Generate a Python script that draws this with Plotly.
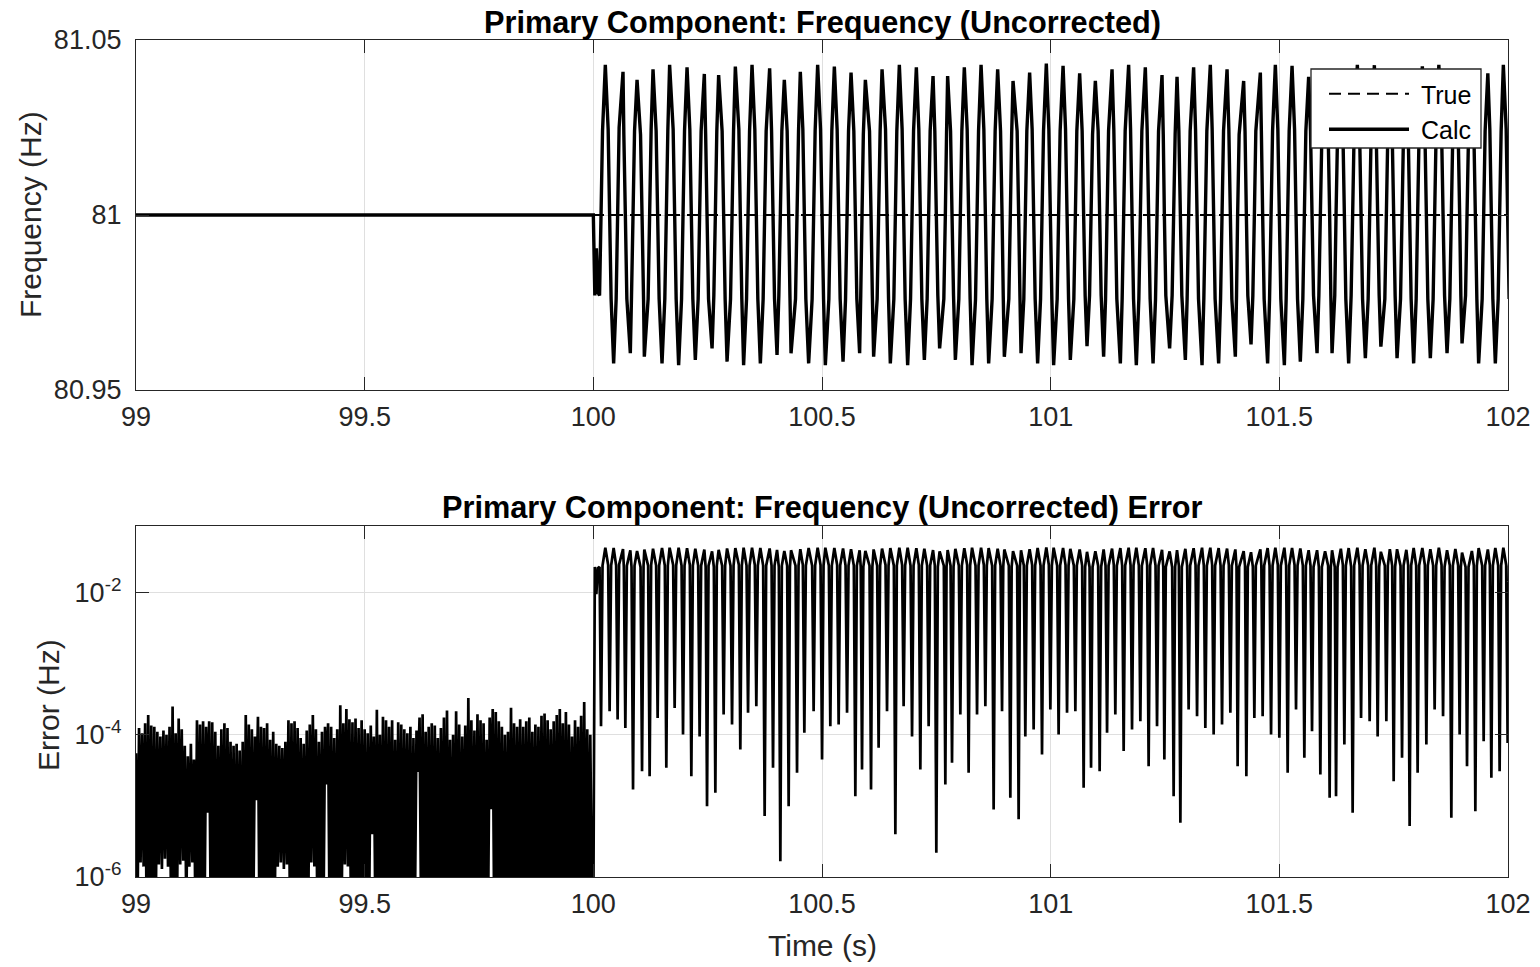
import numpy as np
import plotly.graph_objects as go

# ---------------- data ----------------
F_TRUE = 81.0
t_true = [99.0, 102.0]
f_true_line = [81.0, 81.0]

# calculated frequency before the step (flat at 81 Hz on this scale)
t_flat = [99.0, 100.0]
f_flat = [81.0, 81.0]

# error noise before the step: alternating local highs / lows (Hz)
noise_dt = 1.0 / 300.0
noise_hi = [
    0.55e-4, 1.25e-4, 1.05e-4, 1.45e-4, 1.90e-4, 1.35e-4, 1.30e-4, 1.10e-4, 0.95e-4, 1.15e-4,
    1.00e-4, 1.30e-4, 2.50e-4, 1.05e-4, 1.70e-4, 1.20e-4, 0.70e-4, 0.50e-4, 0.75e-4, 0.45e-4,
    1.60e-4, 1.40e-4, 1.55e-4, 1.30e-4, 1.55e-4, 1.50e-4, 1.10e-4, 0.70e-4, 1.20e-4, 1.45e-4,
    1.25e-4, 0.80e-4, 0.70e-4, 0.75e-4, 0.60e-4, 0.80e-4, 1.90e-4, 1.40e-4, 1.20e-4, 0.95e-4,
    1.80e-4, 1.30e-4, 1.25e-4, 1.45e-4, 0.85e-4, 1.10e-4, 0.75e-4, 0.70e-4, 0.65e-4, 0.80e-4,
    1.60e-4, 1.45e-4, 1.55e-4, 1.25e-4, 0.90e-4, 0.75e-4, 1.15e-4, 1.40e-4, 1.90e-4, 1.20e-4,
    0.80e-4, 1.10e-4, 1.30e-4, 1.45e-4, 1.30e-4, 0.90e-4, 1.20e-4, 2.60e-4, 1.45e-4, 2.30e-4,
    1.65e-4, 1.50e-4, 1.70e-4, 1.25e-4, 1.60e-4, 1.20e-4, 1.05e-4, 1.35e-4, 0.95e-4, 2.25e-4,
    1.00e-4, 1.80e-4, 1.60e-4, 1.30e-4, 1.60e-4, 0.85e-4, 1.50e-4, 1.40e-4, 1.20e-4, 1.05e-4,
    1.30e-4, 0.90e-4, 1.15e-4, 1.75e-4, 1.95e-4, 1.10e-4, 1.30e-4, 1.45e-4, 1.35e-4, 0.90e-4,
    1.25e-4, 1.75e-4, 2.20e-4, 0.85e-4, 1.00e-4, 2.15e-4, 1.40e-4, 0.95e-4, 1.35e-4, 3.30e-4,
    1.60e-4, 1.15e-4, 1.95e-4, 1.60e-4, 1.45e-4, 0.85e-4, 1.75e-4, 2.30e-4, 2.10e-4, 1.55e-4,
    1.30e-4, 1.00e-4, 1.10e-4, 2.40e-4, 1.45e-4, 1.30e-4, 1.65e-4, 1.30e-4, 1.55e-4, 1.75e-4,
    1.10e-4, 1.40e-4, 1.30e-4, 1.85e-4, 2.00e-4, 1.60e-4, 1.20e-4, 1.55e-4, 1.90e-4, 2.30e-4,
    1.45e-4, 2.10e-4, 1.40e-4, 0.95e-4, 1.60e-4, 1.30e-4, 1.85e-4, 2.90e-4, 1.20e-4, 1.00e-4,
]
noise_lo = [
    0.30e-6, 1.60e-6, 1.40e-6, 0.20e-6, 0.50e-6, 0.30e-6, 0.40e-6, 1.50e-6, 1.30e-6, 1.80e-6,
    1.40e-6, 0.30e-6, 0.20e-6, 0.60e-6, 1.50e-6, 1.70e-6, 0.30e-6, 1.40e-6, 1.60e-6, 0.25e-6,
    0.40e-6, 0.20e-6, 0.35e-6, 8.00e-6, 0.30e-6, 0.50e-6, 0.20e-6, 0.30e-6, 0.45e-6, 0.15e-6,
    0.30e-6, 0.60e-6, 0.25e-6, 0.40e-6, 0.30e-6, 0.20e-6, 0.50e-6, 0.30e-6, 0.35e-6, 12.0e-6,
    0.20e-6, 0.40e-6, 0.30e-6, 0.60e-6, 0.25e-6, 0.30e-6, 1.40e-6, 1.60e-6, 1.30e-6, 1.50e-6,
    0.30e-6, 0.20e-6, 0.50e-6, 0.30e-6, 0.40e-6, 0.25e-6, 0.30e-6, 1.60e-6, 1.40e-6, 0.20e-6,
    0.50e-6, 0.30e-6, 20.0e-6, 0.20e-6, 0.40e-6, 0.30e-6, 0.25e-6, 0.60e-6, 1.50e-6, 1.40e-6,
    0.30e-6, 0.20e-6, 0.40e-6, 0.35e-6, 0.30e-6, 0.20e-6, 0.50e-6, 4.00e-6, 0.30e-6, 0.25e-6,
    0.40e-6, 0.20e-6, 0.30e-6, 0.60e-6, 0.25e-6, 0.30e-6, 0.40e-6, 0.20e-6, 0.50e-6, 0.30e-6,
    0.20e-6, 0.40e-6, 30.0e-6, 0.30e-6, 0.25e-6, 0.50e-6, 0.30e-6, 0.20e-6, 0.40e-6, 0.30e-6,
    0.60e-6, 0.25e-6, 0.30e-6, 0.20e-6, 0.45e-6, 0.30e-6, 0.20e-6, 0.50e-6, 0.30e-6, 0.40e-6,
    0.30e-6, 0.20e-6, 0.60e-6, 0.25e-6, 0.30e-6, 0.40e-6, 9.00e-6, 0.20e-6, 0.30e-6, 0.50e-6,
    0.25e-6, 0.30e-6, 0.40e-6, 0.20e-6, 0.30e-6, 0.50e-6, 0.25e-6, 0.30e-6, 0.20e-6, 0.60e-6,
    0.30e-6, 0.25e-6, 0.40e-6, 0.20e-6, 0.30e-6, 0.35e-6, 0.50e-6, 0.20e-6, 0.30e-6, 0.40e-6,
    0.25e-6, 0.30e-6, 0.20e-6, 0.50e-6, 0.30e-6, 0.40e-6, 0.20e-6, 0.30e-6, 0.25e-6, 0.50e-6,
]

# calculated frequency after the step (s, Hz)
t_osc = [
    100.0000, 100.0033, 100.0066, 100.0098, 100.0136,
    100.0168, 100.0201, 100.0262, 100.0324, 100.0356, 100.0389, 100.0444, 100.0499,
    100.0531, 100.0564, 100.0649, 100.0667, 100.0700, 100.0733, 100.0809, 100.0835,
    100.0868, 100.0901, 100.0956, 100.1032, 100.1065, 100.1098, 100.1115, 100.1198,
    100.1231, 100.1264, 100.1305, 100.1373, 100.1406, 100.1439, 100.1502, 100.1563,
    100.1596, 100.1629, 100.1668, 100.1745, 100.1778, 100.1811, 100.1865, 100.1929,
    100.1961, 100.1994, 100.2049, 100.2110, 100.2143, 100.2176, 100.2230, 100.2292,
    100.2324, 100.2357, 100.2427, 100.2456, 100.2486, 100.2519, 100.2596, 100.2635,
    100.2668, 100.2700, 100.2740, 100.2816, 100.2849, 100.2882, 100.2924, 100.3000,
    100.3033, 100.3066, 100.3105, 100.3182, 100.3214, 100.3247, 100.3286, 100.3350,
    100.3383, 100.3416, 100.3470, 100.3531, 100.3564, 100.3597, 100.3652, 100.3713,
    100.3746, 100.3779, 100.3855, 100.3897, 100.3929, 100.3962, 100.4017, 100.4056,
    100.4089, 100.4122, 100.4176, 100.4238, 100.4271, 100.4299, 100.4323, 100.4421,
    100.4454, 100.4487, 100.4526, 100.4581, 100.4614, 100.4647, 100.4708, 100.4784,
    100.4817, 100.4850, 100.4905, 100.4968, 100.5001, 100.5034, 100.5073, 100.5150,
    100.5182, 100.5215, 100.5270, 100.5331, 100.5364, 100.5397, 100.5460, 100.5515,
    100.5548, 100.5580, 100.5635, 100.5696, 100.5729, 100.5762, 100.5823, 100.5847,
    100.5875, 100.5904, 100.5948, 100.6039, 100.6072, 100.6101, 100.6129, 100.6206,
    100.6238, 100.6271, 100.6313, 100.6389, 100.6422, 100.6455, 100.6494, 100.6571,
    100.6604, 100.6636, 100.6691, 100.6752, 100.6785, 100.6818, 100.6873, 100.6936,
    100.6969, 100.7002, 100.7063, 100.7117, 100.7150, 100.7183, 100.7238, 100.7299,
    100.7332, 100.7365, 100.7428, 100.7467, 100.7500, 100.7533, 100.7572, 100.7664,
    100.7697, 100.7723, 100.7747, 100.7811, 100.7843, 100.7876, 100.7916, 100.7992,
    100.8025, 100.8058, 100.8112, 100.8174, 100.8206, 100.8239, 100.8281, 100.8357,
    100.8390, 100.8423, 100.8478, 100.8539, 100.8572, 100.8604, 100.8644, 100.8720,
    100.8753, 100.8786, 100.8841, 100.8904, 100.8937, 100.8963, 100.8987, 100.9085,
    100.9118, 100.9147, 100.9177, 100.9267, 100.9300, 100.9328, 100.9352, 100.9413,
    100.9446, 100.9479, 100.9540, 100.9595, 100.9628, 100.9661, 100.9715, 100.9779,
    100.9811, 100.9844, 100.9905, 100.9960, 100.9993, 101.0026, 101.0065, 101.0142,
    101.0174, 101.0207, 101.0271, 101.0325, 101.0358, 101.0391, 101.0430, 101.0507,
    101.0540, 101.0572, 101.0634, 101.0688, 101.0721, 101.0754, 101.0795, 101.0850,
    101.0883, 101.0916, 101.0977, 101.1038, 101.1071, 101.1104, 101.1158, 101.1200,
    101.1233, 101.1266, 101.1342, 101.1381, 101.1414, 101.1447, 101.1524, 101.1563,
    101.1596, 101.1629, 101.1705, 101.1747, 101.1779, 101.1812, 101.1873, 101.1928,
    101.1961, 101.1994, 101.2070, 101.2110, 101.2142, 101.2175, 101.2239, 101.2293,
    101.2326, 101.2359, 101.2435, 101.2462, 101.2486, 101.2518, 101.2601, 101.2656,
    101.2689, 101.2722, 101.2763, 101.2803, 101.2836, 101.2868, 101.2945, 101.2984,
    101.3017, 101.3050, 101.3126, 101.3168, 101.3201, 101.3233, 101.3310, 101.3349,
    101.3382, 101.3415, 101.3491, 101.3531, 101.3564, 101.3596, 101.3673, 101.3715,
    101.3747, 101.3780, 101.3857, 101.3896, 101.3929, 101.3962, 101.4038, 101.4064,
    101.4088, 101.4121, 101.4220, 101.4250, 101.4279, 101.4311, 101.4381, 101.4421,
    101.4454, 101.4486, 101.4585, 101.4607, 101.4635, 101.4668, 101.4744, 101.4786,
    101.4819, 101.4852, 101.4913, 101.4967, 101.5000, 101.5033, 101.5110, 101.5149,
    101.5182, 101.5215, 101.5278, 101.5333, 101.5365, 101.5398, 101.5459, 101.5514,
    101.5547, 101.5580, 101.5641, 101.5682, 101.5715, 101.5748, 101.5825, 101.5864,
    101.5897, 101.5930, 101.6000, 101.6067, 101.6100, 101.6126, 101.6153, 101.6212,
    101.6240, 101.6273, 101.6345, 101.6389, 101.6422, 101.6454, 101.6516, 101.6570,
    101.6603, 101.6636, 101.6706, 101.6754, 101.6787, 101.6820, 101.6881, 101.6942,
    101.6975, 101.7008, 101.7078, 101.7117, 101.7150, 101.7183, 101.7220, 101.7307,
    101.7340, 101.7373, 101.7416, 101.7467, 101.7500, 101.7532, 101.7574, 101.7650,
    101.7683, 101.7716, 101.7777, 101.7817, 101.7849, 101.7882, 101.7937, 101.7992,
    101.8024, 101.8057, 101.8127, 101.8182, 101.8215, 101.8247, 101.8302, 101.8363,
    101.8396, 101.8429, 101.8488, 101.8547, 101.8580, 101.8613, 101.8667, 101.8728,
    101.8761, 101.8794, 101.8849, 101.8910, 101.8943, 101.8969, 101.8995, 101.9072,
    101.9104, 101.9137, 101.9210, 101.9253, 101.9286, 101.9319, 101.9358, 101.9435,
    101.9468, 101.9500, 101.9559, 101.9603, 101.9636, 101.9669, 101.9723, 101.9785,
    101.9817, 101.9850, 101.9898, 101.9960, 101.9992, 102.0025,
]
f_osc = [
    81.0000003, 80.9770, 80.9905, 80.9780, 80.9770,
    80.999868, 81.0240, 81.0429, 81.0245, 81.000215, 80.9760, 80.9576, 80.9760,
    80.999836, 81.0250, 81.0409, 81.0230, 81.000125, 80.9760, 80.9605, 80.9770,
    80.999983, 81.0240, 81.0386, 81.0230, 81.0000308, 80.9760, 80.9595, 80.9760,
    80.9999738, 81.0245, 81.0416, 81.0240, 81.000173, 80.9760, 80.9576, 80.9760,
    80.9999656, 81.0240, 81.0429, 81.0245, 81.000239, 80.9760, 80.9571, 80.9760,
    80.999899, 81.0240, 81.0422, 81.0245, 81.0000262, 80.9760, 80.9586, 80.9760,
    80.999905, 81.0240, 81.0403, 81.0230, 81.0000099, 80.9760, 80.9619, 80.9770,
    80.9999847, 81.0240, 81.0400, 81.0240, 81.000193, 80.9760, 80.9581, 80.9760,
    80.999860, 81.0240, 81.0424, 81.0245, 81.000062, 80.9760, 80.9571, 80.9760,
    80.999796, 81.0240, 81.0429, 81.0245, 81.000252, 80.9760, 80.9576, 80.9760,
    80.9999928, 81.0240, 81.0419, 81.0240, 81.0000344, 80.9760, 80.9600, 80.9770,
    80.99999833, 81.0240, 81.0386, 81.0240, 81.0000099, 80.9770, 80.9605, 80.9760,
    80.9999708, 81.0240, 81.0409, 81.0245, 81.000107, 80.9760, 80.9576, 80.9760,
    80.999785, 81.0240, 81.0429, 81.0245, 81.000045, 80.9760, 80.9571, 80.9760,
    80.999868, 81.0240, 81.0424, 81.0245, 81.000140, 80.9760, 80.9581, 80.9760,
    80.999796, 81.0240, 81.0407, 81.0240, 81.0000137, 80.9760, 80.9605, 80.9770,
    80.9999675, 81.0230, 81.0386, 81.0240, 81.000017, 80.9770, 80.9595, 80.9760,
    80.999934, 81.0240, 81.0416, 81.0245, 81.000215, 80.9760, 80.9576, 80.9760,
    80.999996, 81.0240, 81.0429, 81.0245, 81.000252, 80.9760, 80.9571, 80.9760,
    80.999905, 81.0240, 81.0422, 81.0245, 81.0000325, 80.9760, 80.9586, 80.9760,
    80.999868, 81.0240, 81.0397, 81.0240, 81.0000022, 80.9770, 80.9619, 80.9760,
    80.999980, 81.0230, 81.0397, 81.0240, 81.0000404, 80.9770, 80.9586, 80.9760,
    80.999807, 81.0240, 81.0422, 81.0245, 81.0000292, 80.9760, 80.9571, 80.9760,
    80.999807, 81.0240, 81.0429, 81.0245, 81.000252, 80.9760, 80.9576, 80.9760,
    80.9999911, 81.0240, 81.0416, 81.0240, 81.000215, 80.9770, 80.9595, 80.9760,
    80.999987, 81.0230, 81.0383, 81.0240, 81.0000065, 80.9770, 80.9605, 80.9760,
    80.999905, 81.0240, 81.0407, 81.0245, 81.000119, 80.9760, 80.9576, 80.9760,
    80.999947, 81.0240, 81.0433, 81.0245, 81.000227, 80.9760, 80.9571, 80.9760,
    80.999899, 81.0240, 81.0426, 81.0245, 81.000204, 80.9760, 80.9586, 80.9760,
    80.999785, 81.0240, 81.0405, 81.0240, 81.000018, 80.9770, 80.9625, 80.9770,
    80.9999656, 81.0230, 81.0383, 81.0240, 81.0000308, 80.9770, 80.9595, 80.9760,
    80.999893, 81.0240, 81.0416, 81.0245, 81.000193, 80.9760, 80.9576, 80.9760,
    80.999941, 81.0240, 81.0429, 81.0245, 81.000119, 80.9760, 80.9571, 80.9760,
    80.999845, 81.0240, 81.0422, 81.0245, 81.0000362, 80.9760, 80.9576, 80.9760,
    80.999868, 81.0240, 81.0400, 81.0230, 81.000045, 80.9770, 80.9619, 80.9770,
    80.9999863, 81.0230, 81.0395, 81.0240, 81.0000058, 80.9770, 80.9586, 80.9760,
    80.999773, 81.0240, 81.0422, 81.0245, 81.000183, 80.9760, 80.9571, 80.9760,
    80.999875, 81.0240, 81.0429, 81.0245, 81.000101, 80.9760, 80.9576, 80.9760,
    80.999860, 81.0240, 81.0416, 81.0245, 81.000204, 80.9760, 80.9595, 80.9770,
    80.9999638, 81.0230, 81.0383, 81.0240, 81.0000262, 80.9770, 80.9630, 80.9770,
    80.999827, 81.0240, 81.0407, 81.0240, 81.000183, 80.9760, 80.9576, 80.9760,
    80.999899, 81.0240, 81.0429, 81.0245, 81.000091, 80.9760, 80.9571, 80.9760,
    80.9999708, 81.0240, 81.0426, 81.0245, 81.000227, 80.9760, 80.9581, 80.9760,
    80.9999525, 81.0240, 81.0395, 81.0240, 81.000112, 80.9770, 80.9605, 80.9770,
    80.9999723, 81.0230, 81.0383, 81.0240, 81.000013, 80.9770, 80.9605, 80.9770,
    80.9999863, 81.0230, 81.0416, 81.0245, 81.000073, 80.9760, 80.9576, 80.9770,
    80.999992, 81.0240, 81.0429, 81.0245, 81.000173, 80.9760, 80.9591, 80.9760,
    80.999845, 81.0240, 81.0428, 81.0245, 81.000095, 80.9770, 80.9624, 80.9760,
    80.999845, 81.0240, 81.0408, 81.0240, 81.0000223, 80.9770, 80.9591, 80.9760,
    80.9999525, 81.0240, 81.0400, 81.0245, 81.0000052, 80.9760, 80.9576, 80.9760,
    80.9999708, 81.0240, 81.0425, 81.0245, 81.000073, 80.9760, 80.9591, 80.9760,
    80.999773, 81.0240, 81.0429, 81.0245, 81.000183, 80.9770, 80.9605, 80.9760,
    80.9999932, 81.0240, 81.0412, 81.0240, 81.000101, 80.9770, 80.9633, 80.9770,
    80.9999638, 81.0230, 81.0386, 81.0240, 81.0000084, 80.9760, 80.9576, 80.9760,
    80.999919, 81.0240, 81.0405, 81.0245, 81.0000249, 80.9760, 80.9576, 80.9760,
    80.9999692, 81.0240, 81.0429, 81.0245, 81.000077, 80.9760,
]

x_tickvals = [99, 99.5, 100, 100.5, 101, 101.5, 102]
x_ticktext = ["99", "99.5", "100", "100.5", "101", "101.5", "102"]
y1_tickvals = [80.95, 81.0, 81.05]
y1_ticktext = ["80.95", "81", "81.05"]
y2_tickvals = [1e-6, 1e-4, 1e-2]
y2_ticktext = ["10<sup>-6</sup>", "10<sup>-4</sup>", "10<sup>-2</sup>"]

# ---------------- derived series ----------------
top_t = list(t_flat) + list(t_osc)
top_f = list(f_flat) + list(f_osc)

err_noise = np.empty(len(noise_hi) + len(noise_lo))
err_noise[0::2] = noise_hi
err_noise[1::2] = noise_lo
t_noise = 99.0 + np.arange(err_noise.size) * noise_dt
err_osc = np.abs(np.array(f_osc) - F_TRUE)
bot_t = np.concatenate([t_noise, np.array(t_osc)])
bot_e = np.concatenate([err_noise, err_osc])

# ---------------- figure ----------------
FONT = "Liberation Sans, Arial, Helvetica, sans-serif"
AX = "#262626"
GRID = "#dfdfdf"
W, H = 1540, 967
ML, MR, MT, MB = 136, 32, 40, 90
PW = W - ML - MR
PH = H - MT - MB

def py(ypix):
    return (H - MB - ypix) / PH

def px(xpix):
    return (xpix - ML) / PW

fig = go.Figure()
fig.add_trace(go.Scatter(x=t_true, y=f_true_line, mode="lines", name="\u00a0True",
                         line=dict(color="black", width=2.2, dash="12px,7px"),
                         xaxis="x", yaxis="y"))
fig.add_trace(go.Scatter(x=top_t, y=top_f, mode="lines", name="\u00a0Calc",
                         line=dict(color="black", width=3.4, simplify=False),
                         xaxis="x", yaxis="y"))
fig.add_trace(go.Scatter(x=bot_t, y=bot_e, mode="lines", name="Error", showlegend=False,
                         line=dict(color="black", width=2.7, simplify=False),
                         xaxis="x2", yaxis="y2"))

common_axis = dict(showline=True, linecolor=AX, linewidth=1.3, mirror="ticks",
                   ticks="inside", ticklen=13, tickwidth=1.3, tickcolor=AX,
                   showgrid=True, gridcolor=GRID, gridwidth=1, zeroline=False,
                   tickfont=dict(family=FONT, size=27, color=AX))

fig.update_layout(
    width=W, height=H, autosize=False,
    margin=dict(l=ML, r=MR, t=MT, b=MB),
    paper_bgcolor="white", plot_bgcolor="white",
    font=dict(family=FONT, color=AX),
    xaxis=dict(domain=[0, 1], anchor="y", range=[99, 102], tickvals=x_tickvals,
               ticktext=x_ticktext, ticklabelstandoff=2, automargin=False, **common_axis),
    yaxis=dict(domain=[py(390), 1.0], anchor="x", range=[80.95, 81.05],
               tickvals=y1_tickvals, ticktext=y1_ticktext, ticklabelstandoff=8,
               automargin=False, **common_axis),
    xaxis2=dict(domain=[0, 1], anchor="y2", range=[99, 102], tickvals=x_tickvals,
                ticktext=x_ticktext, ticklabelstandoff=2, automargin=False, **common_axis),
    yaxis2=dict(domain=[0, py(526)], anchor="x2", type="log", range=[-6, -1.0625],
                tickvals=y2_tickvals, ticktext=y2_ticktext, ticklabelstandoff=8,
                automargin=False, **common_axis),
    showlegend=True,
    legend=dict(x=px(1324), xanchor="left", y=py(71), yanchor="top",
                bgcolor="rgba(0,0,0,0)", borderwidth=0,
                font=dict(family=FONT, size=25, color="black"),
                itemwidth=80, traceorder="normal"),
    shapes=[
        dict(type="rect", xref="paper", yref="paper", x0=px(1311), x1=px(1481),
             y0=py(148), y1=py(69), fillcolor="white", line=dict(color=AX, width=1.3),
             layer="above"),
    ],
    annotations=[
        dict(text="<b>Primary Component: Frequency (Uncorrected)</b>", x=0.5, y=py(22),
             xref="paper", yref="paper", showarrow=False, xanchor="center", yanchor="middle",
             font=dict(family=FONT, size=30.7, color="black")),
        dict(text="<b>Primary Component: Frequency (Uncorrected) Error</b>", x=0.5, y=py(508),
             xref="paper", yref="paper", showarrow=False, xanchor="center", yanchor="middle",
             font=dict(family=FONT, size=30.7, color="black")),
        dict(text="Frequency (Hz)", x=px(30), y=py(215), xref="paper", yref="paper",
             showarrow=False, textangle=-90, xanchor="center", yanchor="middle",
             font=dict(family=FONT, size=30, color=AX)),
        dict(text="Error (Hz)", x=px(48), y=py(705), xref="paper", yref="paper",
             showarrow=False, textangle=-90, xanchor="center", yanchor="middle",
             font=dict(family=FONT, size=30, color=AX)),
        dict(text="Time (s)", x=0.5, y=py(945), xref="paper", yref="paper",
             showarrow=False, xanchor="center", yanchor="middle",
             font=dict(family=FONT, size=30, color=AX)),
    ],
)

fig.write_html("out.html", config={"displayModeBar": False},
               post_script="document.body.style.margin='0';")
